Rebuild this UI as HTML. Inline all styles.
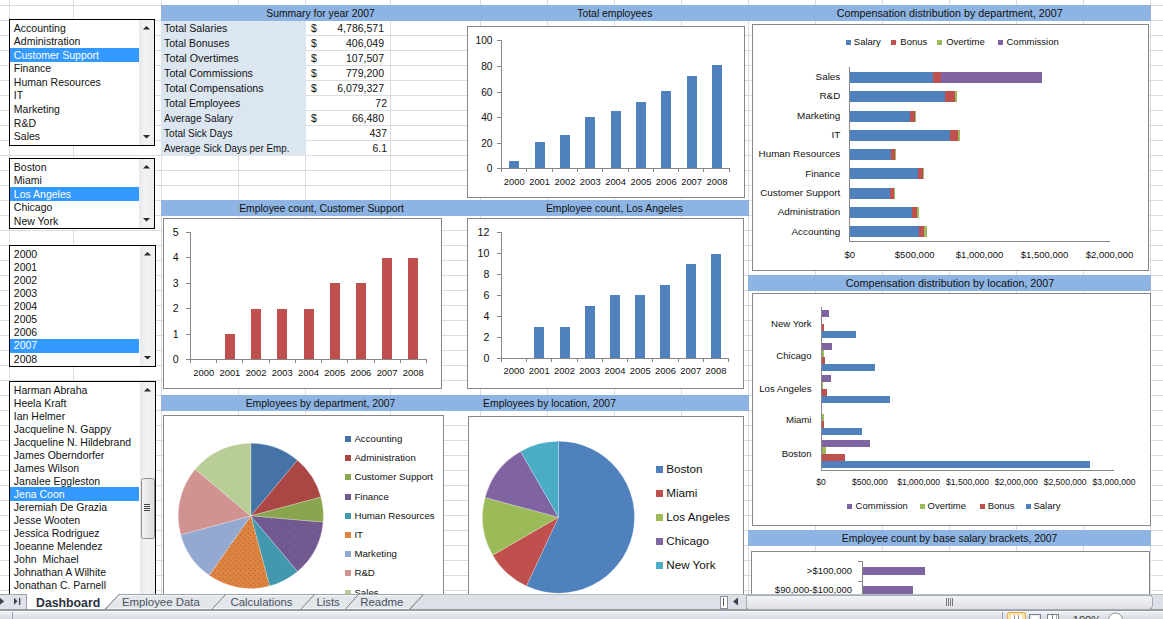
<!DOCTYPE html>
<html><head><meta charset="utf-8"><style>html,body{margin:0;padding:0;background:#fff;overflow:hidden}svg{display:block}text{font-family:"Liberation Sans",sans-serif}</style></head>
<body><svg width="1163" height="619" viewBox="0 0 1163 619" shape-rendering="crispEdges">
<defs>
<linearGradient id="sbg" x1="0" x2="1" y1="0" y2="0"><stop offset="0" stop-color="#e6e8ea"/><stop offset="0.4" stop-color="#f2f3f4"/><stop offset="1" stop-color="#eceef0"/></linearGradient>
<linearGradient id="thumb" x1="0" x2="1" y1="0" y2="0"><stop offset="0" stop-color="#f4f4f4"/><stop offset="1" stop-color="#dcdcdc"/></linearGradient>
<linearGradient id="stb" x1="0" x2="0" y1="0" y2="1"><stop offset="0" stop-color="#f0f2f5"/><stop offset="1" stop-color="#d7dbe1"/></linearGradient>
<linearGradient id="hs" x1="0" x2="0" y1="0" y2="1"><stop offset="0" stop-color="#f4f5f7"/><stop offset="1" stop-color="#dde0e5"/></linearGradient>
<pattern id="dotIT" width="5" height="5" patternUnits="userSpaceOnUse"><rect x="0" y="0" width="1" height="1" fill="#c4584a"/><rect x="2.5" y="2.5" width="1" height="1" fill="#c4584a"/></pattern>
<pattern id="dotF" width="12" height="9" patternUnits="userSpaceOnUse"><rect x="1" y="1" width="1" height="1" fill="#8472a0"/><rect x="7" y="5.5" width="1" height="1" fill="#8472a0"/></pattern>
</defs>
<rect x="0" y="0" width="1163" height="619" fill="#ffffff" />
<rect x="9" y="0" width="1" height="619" fill="#dadcdf" />
<rect x="73" y="0" width="1" height="619" fill="#dadcdf" />
<rect x="161" y="0" width="1" height="619" fill="#dadcdf" />
<rect x="238" y="0" width="1" height="619" fill="#dadcdf" />
<rect x="305" y="0" width="1" height="619" fill="#dadcdf" />
<rect x="390" y="0" width="1" height="619" fill="#dadcdf" />
<rect x="480" y="0" width="1" height="619" fill="#dadcdf" />
<rect x="547" y="0" width="1" height="619" fill="#dadcdf" />
<rect x="614" y="0" width="1" height="619" fill="#dadcdf" />
<rect x="681" y="0" width="1" height="619" fill="#dadcdf" />
<rect x="748" y="0" width="1" height="619" fill="#dadcdf" />
<rect x="815" y="0" width="1" height="619" fill="#dadcdf" />
<rect x="882" y="0" width="1" height="619" fill="#dadcdf" />
<rect x="949" y="0" width="1" height="619" fill="#dadcdf" />
<rect x="1016" y="0" width="1" height="619" fill="#dadcdf" />
<rect x="1083" y="0" width="1" height="619" fill="#dadcdf" />
<rect x="1150" y="0" width="1" height="619" fill="#dadcdf" />
<rect x="0" y="5" width="1163" height="1" fill="#dadcdf" />
<rect x="0" y="20" width="1163" height="1" fill="#dadcdf" />
<rect x="0" y="35" width="1163" height="1" fill="#dadcdf" />
<rect x="0" y="50" width="1163" height="1" fill="#dadcdf" />
<rect x="0" y="65" width="1163" height="1" fill="#dadcdf" />
<rect x="0" y="80" width="1163" height="1" fill="#dadcdf" />
<rect x="0" y="95" width="1163" height="1" fill="#dadcdf" />
<rect x="0" y="110" width="1163" height="1" fill="#dadcdf" />
<rect x="0" y="125" width="1163" height="1" fill="#dadcdf" />
<rect x="0" y="140" width="1163" height="1" fill="#dadcdf" />
<rect x="0" y="155" width="1163" height="1" fill="#dadcdf" />
<rect x="0" y="170" width="1163" height="1" fill="#dadcdf" />
<rect x="0" y="185" width="1163" height="1" fill="#dadcdf" />
<rect x="0" y="200" width="1163" height="1" fill="#dadcdf" />
<rect x="0" y="215" width="1163" height="1" fill="#dadcdf" />
<rect x="0" y="230" width="1163" height="1" fill="#dadcdf" />
<rect x="0" y="245" width="1163" height="1" fill="#dadcdf" />
<rect x="0" y="260" width="1163" height="1" fill="#dadcdf" />
<rect x="0" y="275" width="1163" height="1" fill="#dadcdf" />
<rect x="0" y="290" width="1163" height="1" fill="#dadcdf" />
<rect x="0" y="305" width="1163" height="1" fill="#dadcdf" />
<rect x="0" y="320" width="1163" height="1" fill="#dadcdf" />
<rect x="0" y="335" width="1163" height="1" fill="#dadcdf" />
<rect x="0" y="350" width="1163" height="1" fill="#dadcdf" />
<rect x="0" y="365" width="1163" height="1" fill="#dadcdf" />
<rect x="0" y="380" width="1163" height="1" fill="#dadcdf" />
<rect x="0" y="395" width="1163" height="1" fill="#dadcdf" />
<rect x="0" y="410" width="1163" height="1" fill="#dadcdf" />
<rect x="0" y="425" width="1163" height="1" fill="#dadcdf" />
<rect x="0" y="440" width="1163" height="1" fill="#dadcdf" />
<rect x="0" y="455" width="1163" height="1" fill="#dadcdf" />
<rect x="0" y="470" width="1163" height="1" fill="#dadcdf" />
<rect x="0" y="485" width="1163" height="1" fill="#dadcdf" />
<rect x="0" y="500" width="1163" height="1" fill="#dadcdf" />
<rect x="0" y="515" width="1163" height="1" fill="#dadcdf" />
<rect x="0" y="530" width="1163" height="1" fill="#dadcdf" />
<rect x="0" y="545" width="1163" height="1" fill="#dadcdf" />
<rect x="0" y="560" width="1163" height="1" fill="#dadcdf" />
<rect x="0" y="575" width="1163" height="1" fill="#dadcdf" />
<rect x="0" y="590" width="1163" height="1" fill="#dadcdf" />
<rect x="161" y="5" width="990" height="16" fill="#8db4e2" />
<text x="320.5" y="16.5" font-size="10.4" fill="#111" text-anchor="middle" font-weight="normal" >Summary for year 2007</text>
<text x="614.8" y="16.5" font-size="10.4" fill="#111" text-anchor="middle" font-weight="normal" >Total employees</text>
<text x="949.7" y="16.5" font-size="10.75" fill="#111" text-anchor="middle" font-weight="normal" >Compensation distribution by department, 2007</text>
<rect x="161" y="200" width="588" height="16" fill="#8db4e2" />
<text x="321.5" y="211.5" font-size="10.4" fill="#111" text-anchor="middle" font-weight="normal" >Employee count, Customer Support</text>
<text x="614.4" y="211.5" font-size="10.4" fill="#111" text-anchor="middle" font-weight="normal" >Employee count, Los Angeles</text>
<rect x="748" y="275" width="403" height="16" fill="#8db4e2" />
<text x="950" y="286.5" font-size="10.75" fill="#111" text-anchor="middle" font-weight="normal" >Compensation distribution by location, 2007</text>
<rect x="161" y="395" width="588" height="16" fill="#8db4e2" />
<text x="320.5" y="406.5" font-size="10.4" fill="#111" text-anchor="middle" font-weight="normal" >Employees by department, 2007</text>
<text x="549.5" y="406.5" font-size="10.4" fill="#111" text-anchor="middle" font-weight="normal" >Employees by location, 2007</text>
<rect x="748" y="530" width="403" height="16" fill="#8db4e2" />
<text x="949.6" y="541.5" font-size="10.4" fill="#111" text-anchor="middle" font-weight="normal" >Employee count by base salary brackets, 2007</text>
<rect x="161" y="21" width="145" height="135" fill="#dce6f1" />
<text x="164.1" y="32.4" font-size="10.5" fill="#111" text-anchor="start" font-weight="normal"  textLength="63.3" lengthAdjust="spacingAndGlyphs">Total Salaries</text>
<text x="311" y="32.4" font-size="10.5" fill="#111" text-anchor="start" font-weight="normal" >$</text>
<text x="384" y="32.4" font-size="10.5" fill="#111" text-anchor="end" font-weight="normal" >4,786,571</text>
<text x="164.1" y="47.4" font-size="10.5" fill="#111" text-anchor="start" font-weight="normal"  textLength="65.4" lengthAdjust="spacingAndGlyphs">Total Bonuses</text>
<text x="311" y="47.4" font-size="10.5" fill="#111" text-anchor="start" font-weight="normal" >$</text>
<text x="384" y="47.4" font-size="10.5" fill="#111" text-anchor="end" font-weight="normal" >406,049</text>
<text x="164.1" y="62.4" font-size="10.5" fill="#111" text-anchor="start" font-weight="normal"  textLength="74.4" lengthAdjust="spacingAndGlyphs">Total Overtimes</text>
<text x="311" y="62.4" font-size="10.5" fill="#111" text-anchor="start" font-weight="normal" >$</text>
<text x="384" y="62.4" font-size="10.5" fill="#111" text-anchor="end" font-weight="normal" >107,507</text>
<text x="164.1" y="77.4" font-size="10.5" fill="#111" text-anchor="start" font-weight="normal"  textLength="88.7" lengthAdjust="spacingAndGlyphs">Total Commissions</text>
<text x="311" y="77.4" font-size="10.5" fill="#111" text-anchor="start" font-weight="normal" >$</text>
<text x="384" y="77.4" font-size="10.5" fill="#111" text-anchor="end" font-weight="normal" >779,200</text>
<text x="164.1" y="92.4" font-size="10.5" fill="#111" text-anchor="start" font-weight="normal"  textLength="99.5" lengthAdjust="spacingAndGlyphs">Total Compensations</text>
<text x="311" y="92.4" font-size="10.5" fill="#111" text-anchor="start" font-weight="normal" >$</text>
<text x="384" y="92.4" font-size="10.5" fill="#111" text-anchor="end" font-weight="normal" >6,079,327</text>
<text x="164.1" y="107.4" font-size="10.5" fill="#111" text-anchor="start" font-weight="normal"  textLength="76.2" lengthAdjust="spacingAndGlyphs">Total Employees</text>
<text x="387" y="107.4" font-size="10.5" fill="#111" text-anchor="end" font-weight="normal" >72</text>
<text x="164.1" y="122.4" font-size="10.5" fill="#111" text-anchor="start" font-weight="normal"  textLength="68.8" lengthAdjust="spacingAndGlyphs">Average Salary</text>
<text x="311" y="122.4" font-size="10.5" fill="#111" text-anchor="start" font-weight="normal" >$</text>
<text x="384" y="122.4" font-size="10.5" fill="#111" text-anchor="end" font-weight="normal" >66,480</text>
<text x="164.1" y="137.4" font-size="10.5" fill="#111" text-anchor="start" font-weight="normal"  textLength="68.3" lengthAdjust="spacingAndGlyphs">Total Sick Days</text>
<text x="387" y="137.4" font-size="10.5" fill="#111" text-anchor="end" font-weight="normal" >437</text>
<text x="164.1" y="152.4" font-size="10.5" fill="#111" text-anchor="start" font-weight="normal"  textLength="125.3" lengthAdjust="spacingAndGlyphs">Average Sick Days per Emp.</text>
<text x="387" y="152.4" font-size="10.5" fill="#111" text-anchor="end" font-weight="normal" >6.1</text>
<rect x="467" y="26" width="278" height="172" fill="#868686" />
<rect x="468" y="27" width="276" height="170" fill="#fff" />
<rect x="501" y="40" width="1" height="129" fill="#868686" />
<rect x="497" y="168" width="4" height="1" fill="#868686" />
<text x="492.5" y="171.7" font-size="10.2" fill="#111" text-anchor="end" font-weight="normal" >0</text>
<rect x="497" y="143" width="4" height="1" fill="#868686" />
<text x="492.5" y="146.7" font-size="10.2" fill="#111" text-anchor="end" font-weight="normal" >20</text>
<rect x="497" y="117" width="4" height="1" fill="#868686" />
<text x="492.5" y="120.7" font-size="10.2" fill="#111" text-anchor="end" font-weight="normal" >40</text>
<rect x="497" y="92" width="4" height="1" fill="#868686" />
<text x="492.5" y="95.7" font-size="10.2" fill="#111" text-anchor="end" font-weight="normal" >60</text>
<rect x="497" y="66" width="4" height="1" fill="#868686" />
<text x="492.5" y="69.7" font-size="10.2" fill="#111" text-anchor="end" font-weight="normal" >80</text>
<rect x="497" y="40" width="4" height="1" fill="#868686" />
<text x="492.5" y="43.7" font-size="10.2" fill="#111" text-anchor="end" font-weight="normal" >100</text>
<rect x="501" y="168" width="229" height="1" fill="#868686" />
<rect x="501" y="168" width="1" height="4" fill="#868686" />
<rect x="526" y="168" width="1" height="4" fill="#868686" />
<rect x="552" y="168" width="1" height="4" fill="#868686" />
<rect x="577" y="168" width="1" height="4" fill="#868686" />
<rect x="602" y="168" width="1" height="4" fill="#868686" />
<rect x="628" y="168" width="1" height="4" fill="#868686" />
<rect x="653" y="168" width="1" height="4" fill="#868686" />
<rect x="678" y="168" width="1" height="4" fill="#868686" />
<rect x="703" y="168" width="1" height="4" fill="#868686" />
<rect x="729" y="168" width="1" height="4" fill="#868686" />
<rect x="509" y="161" width="10" height="7" fill="#4f81bd" />
<text x="514.3" y="185" font-size="9.4" fill="#111" text-anchor="middle" font-weight="normal" >2000</text>
<rect x="535" y="142" width="10" height="26" fill="#4f81bd" />
<text x="539.63" y="185" font-size="9.4" fill="#111" text-anchor="middle" font-weight="normal" >2001</text>
<rect x="560" y="135" width="10" height="33" fill="#4f81bd" />
<text x="564.96" y="185" font-size="9.4" fill="#111" text-anchor="middle" font-weight="normal" >2002</text>
<rect x="585" y="117" width="10" height="51" fill="#4f81bd" />
<text x="590.29" y="185" font-size="9.4" fill="#111" text-anchor="middle" font-weight="normal" >2003</text>
<rect x="611" y="111" width="10" height="57" fill="#4f81bd" />
<text x="615.62" y="185" font-size="9.4" fill="#111" text-anchor="middle" font-weight="normal" >2004</text>
<rect x="636" y="102" width="10" height="66" fill="#4f81bd" />
<text x="640.95" y="185" font-size="9.4" fill="#111" text-anchor="middle" font-weight="normal" >2005</text>
<rect x="661" y="91" width="10" height="77" fill="#4f81bd" />
<text x="666.28" y="185" font-size="9.4" fill="#111" text-anchor="middle" font-weight="normal" >2006</text>
<rect x="687" y="76" width="10" height="92" fill="#4f81bd" />
<text x="691.61" y="185" font-size="9.4" fill="#111" text-anchor="middle" font-weight="normal" >2007</text>
<rect x="712" y="65" width="10" height="103" fill="#4f81bd" />
<text x="716.94" y="185" font-size="9.4" fill="#111" text-anchor="middle" font-weight="normal" >2008</text>
<rect x="752" y="24" width="397" height="247" fill="#868686" />
<rect x="753" y="25" width="395" height="245" fill="#fff" />
<rect x="846" y="40" width="5" height="5" fill="#4f81bd" />
<text x="853.8" y="45.3" font-size="9.5" fill="#111" text-anchor="start" font-weight="normal" >Salary</text>
<rect x="891" y="40" width="5" height="5" fill="#c0504d" />
<text x="900.3" y="45.3" font-size="9.5" fill="#111" text-anchor="start" font-weight="normal" >Bonus</text>
<rect x="937" y="40" width="5" height="5" fill="#9bbb59" />
<text x="946.2" y="45.3" font-size="9.5" fill="#111" text-anchor="start" font-weight="normal" >Overtime</text>
<rect x="998" y="40" width="5" height="5" fill="#8064a2" />
<text x="1006.5" y="45.3" font-size="9.5" fill="#111" text-anchor="start" font-weight="normal" >Commission</text>
<rect x="849" y="67" width="1" height="175" fill="#868686" />
<rect x="849" y="241" width="261" height="1" fill="#868686" />
<rect x="850" y="72" width="83" height="11" fill="#4f81bd" />
<rect x="933" y="72" width="8" height="11" fill="#c0504d" />
<rect x="941" y="72" width="101" height="11" fill="#8064a2" />
<text x="840.3" y="80.4" font-size="9.9" fill="#111" text-anchor="end" font-weight="normal" >Sales</text>
<rect x="850" y="91" width="95.2" height="11" fill="#4f81bd" />
<rect x="945.2" y="91" width="9.8" height="11" fill="#c0504d" />
<rect x="955" y="91" width="2" height="11" fill="#9bbb59" />
<text x="840.3" y="99" font-size="9.9" fill="#111" text-anchor="end" font-weight="normal" >R&amp;D</text>
<rect x="850" y="111" width="60" height="11" fill="#4f81bd" />
<rect x="910" y="111" width="5.2" height="11" fill="#c0504d" />
<rect x="915.2" y="111" width="0.8" height="11" fill="#9bbb59" />
<text x="840.3" y="119.2" font-size="9.9" fill="#111" text-anchor="end" font-weight="normal" >Marketing</text>
<rect x="850" y="130" width="100" height="11" fill="#4f81bd" />
<rect x="950" y="130" width="8" height="11" fill="#c0504d" />
<rect x="958" y="130" width="2" height="11" fill="#9bbb59" />
<text x="840.3" y="138.2" font-size="9.9" fill="#111" text-anchor="end" font-weight="normal" >IT</text>
<rect x="850" y="149" width="40.7" height="11" fill="#4f81bd" />
<rect x="890.7" y="149" width="4.3" height="11" fill="#c0504d" />
<rect x="895" y="149" width="1" height="11" fill="#9bbb59" />
<text x="840.3" y="157" font-size="9.9" fill="#111" text-anchor="end" font-weight="normal" >Human Resources</text>
<rect x="850" y="168" width="68" height="11" fill="#4f81bd" />
<rect x="918" y="168" width="4.7" height="11" fill="#c0504d" />
<rect x="922.7" y="168" width="1.3" height="11" fill="#9bbb59" />
<text x="840.3" y="177" font-size="9.9" fill="#111" text-anchor="end" font-weight="normal" >Finance</text>
<rect x="850" y="188" width="40" height="11" fill="#4f81bd" />
<rect x="890" y="188" width="4" height="11" fill="#c0504d" />
<rect x="894" y="188" width="1" height="11" fill="#9bbb59" />
<text x="840.3" y="196.3" font-size="9.9" fill="#111" text-anchor="end" font-weight="normal" >Customer Support</text>
<rect x="850" y="207" width="61.8" height="11" fill="#4f81bd" />
<rect x="911.8" y="207" width="5.0" height="11" fill="#c0504d" />
<rect x="916.8" y="207" width="2.0" height="11" fill="#9bbb59" />
<text x="840.3" y="215.2" font-size="9.9" fill="#111" text-anchor="end" font-weight="normal" >Administration</text>
<rect x="850" y="226" width="69" height="11" fill="#4f81bd" />
<rect x="919" y="226" width="5.2" height="11" fill="#c0504d" />
<rect x="924.2" y="226" width="2.8" height="11" fill="#9bbb59" />
<text x="840.3" y="235.3" font-size="9.9" fill="#111" text-anchor="end" font-weight="normal" >Accounting</text>
<text x="849.7" y="257.7" font-size="9.5" fill="#111" text-anchor="middle" font-weight="normal" >$0</text>
<text x="914.6500000000001" y="257.7" font-size="9.5" fill="#111" text-anchor="middle" font-weight="normal" >$500,000</text>
<text x="979.6" y="257.7" font-size="9.5" fill="#111" text-anchor="middle" font-weight="normal" >$1,000,000</text>
<text x="1044.5500000000002" y="257.7" font-size="9.5" fill="#111" text-anchor="middle" font-weight="normal" >$1,500,000</text>
<text x="1109.5" y="257.7" font-size="9.5" fill="#111" text-anchor="middle" font-weight="normal" >$2,000,000</text>
<rect x="163" y="218" width="279" height="171" fill="#868686" />
<rect x="164" y="219" width="277" height="169" fill="#fff" />
<rect x="190" y="232" width="1" height="128" fill="#868686" />
<rect x="186" y="359" width="4" height="1" fill="#868686" />
<text x="178.7" y="362.8" font-size="10.6" fill="#111" text-anchor="end" font-weight="normal" >0</text>
<rect x="186" y="334" width="4" height="1" fill="#868686" />
<text x="178.7" y="337.8" font-size="10.6" fill="#111" text-anchor="end" font-weight="normal" >1</text>
<rect x="186" y="308" width="4" height="1" fill="#868686" />
<text x="178.7" y="311.8" font-size="10.6" fill="#111" text-anchor="end" font-weight="normal" >2</text>
<rect x="186" y="283" width="4" height="1" fill="#868686" />
<text x="178.7" y="286.8" font-size="10.6" fill="#111" text-anchor="end" font-weight="normal" >3</text>
<rect x="186" y="257" width="4" height="1" fill="#868686" />
<text x="178.7" y="260.8" font-size="10.6" fill="#111" text-anchor="end" font-weight="normal" >4</text>
<rect x="186" y="232" width="4" height="1" fill="#868686" />
<text x="178.7" y="235.8" font-size="10.6" fill="#111" text-anchor="end" font-weight="normal" >5</text>
<rect x="190" y="359" width="237" height="1" fill="#868686" />
<rect x="190" y="359" width="1" height="4" fill="#868686" />
<rect x="216" y="359" width="1" height="4" fill="#868686" />
<rect x="242" y="359" width="1" height="4" fill="#868686" />
<rect x="269" y="359" width="1" height="4" fill="#868686" />
<rect x="295" y="359" width="1" height="4" fill="#868686" />
<rect x="321" y="359" width="1" height="4" fill="#868686" />
<rect x="347" y="359" width="1" height="4" fill="#868686" />
<rect x="374" y="359" width="1" height="4" fill="#868686" />
<rect x="400" y="359" width="1" height="4" fill="#868686" />
<rect x="426" y="359" width="1" height="4" fill="#868686" />
<text x="203.7" y="375.8" font-size="9.4" fill="#111" text-anchor="middle" font-weight="normal" >2000</text>
<rect x="225" y="334" width="10" height="25" fill="#c0504d" />
<text x="229.89999999999998" y="375.8" font-size="9.4" fill="#111" text-anchor="middle" font-weight="normal" >2001</text>
<rect x="251" y="309" width="10" height="50" fill="#c0504d" />
<text x="256.1" y="375.8" font-size="9.4" fill="#111" text-anchor="middle" font-weight="normal" >2002</text>
<rect x="277" y="309" width="10" height="50" fill="#c0504d" />
<text x="282.29999999999995" y="375.8" font-size="9.4" fill="#111" text-anchor="middle" font-weight="normal" >2003</text>
<rect x="304" y="309" width="10" height="50" fill="#c0504d" />
<text x="308.5" y="375.8" font-size="9.4" fill="#111" text-anchor="middle" font-weight="normal" >2004</text>
<rect x="330" y="283" width="10" height="76" fill="#c0504d" />
<text x="334.7" y="375.8" font-size="9.4" fill="#111" text-anchor="middle" font-weight="normal" >2005</text>
<rect x="356" y="283" width="10" height="76" fill="#c0504d" />
<text x="360.9" y="375.8" font-size="9.4" fill="#111" text-anchor="middle" font-weight="normal" >2006</text>
<rect x="382" y="258" width="10" height="101" fill="#c0504d" />
<text x="387.1" y="375.8" font-size="9.4" fill="#111" text-anchor="middle" font-weight="normal" >2007</text>
<rect x="408" y="258" width="10" height="101" fill="#c0504d" />
<text x="413.29999999999995" y="375.8" font-size="9.4" fill="#111" text-anchor="middle" font-weight="normal" >2008</text>
<rect x="467" y="218" width="277" height="171" fill="#868686" />
<rect x="468" y="219" width="275" height="169" fill="#fff" />
<rect x="501" y="232" width="1" height="127" fill="#868686" />
<rect x="497" y="358" width="4" height="1" fill="#868686" />
<text x="489.4" y="361.8" font-size="10.6" fill="#111" text-anchor="end" font-weight="normal" >0</text>
<rect x="497" y="337" width="4" height="1" fill="#868686" />
<text x="489.4" y="340.8" font-size="10.6" fill="#111" text-anchor="end" font-weight="normal" >2</text>
<rect x="497" y="316" width="4" height="1" fill="#868686" />
<text x="489.4" y="319.8" font-size="10.6" fill="#111" text-anchor="end" font-weight="normal" >4</text>
<rect x="497" y="295" width="4" height="1" fill="#868686" />
<text x="489.4" y="298.8" font-size="10.6" fill="#111" text-anchor="end" font-weight="normal" >6</text>
<rect x="497" y="274" width="4" height="1" fill="#868686" />
<text x="489.4" y="277.8" font-size="10.6" fill="#111" text-anchor="end" font-weight="normal" >8</text>
<rect x="497" y="253" width="4" height="1" fill="#868686" />
<text x="489.4" y="256.8" font-size="10.6" fill="#111" text-anchor="end" font-weight="normal" >10</text>
<rect x="497" y="232" width="4" height="1" fill="#868686" />
<text x="489.4" y="235.8" font-size="10.6" fill="#111" text-anchor="end" font-weight="normal" >12</text>
<rect x="501" y="358" width="228" height="1" fill="#868686" />
<rect x="501" y="358" width="1" height="4" fill="#868686" />
<rect x="526" y="358" width="1" height="4" fill="#868686" />
<rect x="551" y="358" width="1" height="4" fill="#868686" />
<rect x="577" y="358" width="1" height="4" fill="#868686" />
<rect x="602" y="358" width="1" height="4" fill="#868686" />
<rect x="627" y="358" width="1" height="4" fill="#868686" />
<rect x="652" y="358" width="1" height="4" fill="#868686" />
<rect x="678" y="358" width="1" height="4" fill="#868686" />
<rect x="703" y="358" width="1" height="4" fill="#868686" />
<rect x="728" y="358" width="1" height="4" fill="#868686" />
<text x="514.0" y="374.3" font-size="9.4" fill="#111" text-anchor="middle" font-weight="normal" >2000</text>
<rect x="534" y="327" width="10" height="31" fill="#4f81bd" />
<text x="539.25" y="374.3" font-size="9.4" fill="#111" text-anchor="middle" font-weight="normal" >2001</text>
<rect x="560" y="327" width="10" height="31" fill="#4f81bd" />
<text x="564.5" y="374.3" font-size="9.4" fill="#111" text-anchor="middle" font-weight="normal" >2002</text>
<rect x="585" y="306" width="10" height="52" fill="#4f81bd" />
<text x="589.75" y="374.3" font-size="9.4" fill="#111" text-anchor="middle" font-weight="normal" >2003</text>
<rect x="610" y="295" width="10" height="63" fill="#4f81bd" />
<text x="615.0" y="374.3" font-size="9.4" fill="#111" text-anchor="middle" font-weight="normal" >2004</text>
<rect x="635" y="295" width="10" height="63" fill="#4f81bd" />
<text x="640.25" y="374.3" font-size="9.4" fill="#111" text-anchor="middle" font-weight="normal" >2005</text>
<rect x="660" y="285" width="10" height="73" fill="#4f81bd" />
<text x="665.5" y="374.3" font-size="9.4" fill="#111" text-anchor="middle" font-weight="normal" >2006</text>
<rect x="686" y="264" width="10" height="94" fill="#4f81bd" />
<text x="690.75" y="374.3" font-size="9.4" fill="#111" text-anchor="middle" font-weight="normal" >2007</text>
<rect x="711" y="254" width="10" height="104" fill="#4f81bd" />
<text x="716.0" y="374.3" font-size="9.4" fill="#111" text-anchor="middle" font-weight="normal" >2008</text>
<rect x="752" y="293" width="399" height="233" fill="#868686" />
<rect x="753" y="294" width="397" height="231" fill="#fff" />
<rect x="821" y="307" width="1" height="164" fill="#868686" />
<rect x="821" y="470" width="293" height="1" fill="#868686" />
<rect x="822" y="310" width="6.8" height="7" fill="#8064a2" />
<rect x="822" y="324" width="2" height="7" fill="#c0504d" />
<rect x="822" y="331" width="34" height="7" fill="#4f81bd" />
<text x="811.5" y="326.7" font-size="9.6" fill="#111" text-anchor="end" font-weight="normal" >New York</text>
<rect x="822" y="343" width="9.9" height="7" fill="#8064a2" />
<rect x="822" y="350" width="2" height="7" fill="#9bbb59" />
<rect x="822" y="357" width="3" height="7" fill="#c0504d" />
<rect x="822" y="364" width="53" height="7" fill="#4f81bd" />
<text x="811.5" y="358.7" font-size="9.6" fill="#111" text-anchor="end" font-weight="normal" >Chicago</text>
<rect x="822" y="375" width="9" height="7" fill="#8064a2" />
<rect x="822" y="382" width="1" height="7" fill="#9bbb59" />
<rect x="822" y="389" width="4.8" height="7" fill="#c0504d" />
<rect x="822" y="396" width="68" height="7" fill="#4f81bd" />
<text x="811.5" y="391.7" font-size="9.6" fill="#111" text-anchor="end" font-weight="normal" >Los Angeles</text>
<rect x="822" y="414" width="1.6" height="7" fill="#9bbb59" />
<rect x="822" y="421" width="2" height="7" fill="#c0504d" />
<rect x="822" y="428" width="40" height="7" fill="#4f81bd" />
<text x="811.5" y="423.3" font-size="9.6" fill="#111" text-anchor="end" font-weight="normal" >Miami</text>
<rect x="822" y="440" width="48" height="7" fill="#8064a2" />
<rect x="822" y="447" width="4" height="7" fill="#9bbb59" />
<rect x="822" y="454" width="22.8" height="7" fill="#c0504d" />
<rect x="822" y="461" width="268" height="7" fill="#4f81bd" />
<text x="811.5" y="456.5" font-size="9.6" fill="#111" text-anchor="end" font-weight="normal" >Boston</text>
<text x="821.0" y="485" font-size="8.6" fill="#111" text-anchor="middle" font-weight="normal" >$0</text>
<text x="869.83" y="485" font-size="8.6" fill="#111" text-anchor="middle" font-weight="normal" >$500,000</text>
<text x="918.66" y="485" font-size="8.6" fill="#111" text-anchor="middle" font-weight="normal" >$1,000,000</text>
<text x="967.49" y="485" font-size="8.6" fill="#111" text-anchor="middle" font-weight="normal" >$1,500,000</text>
<text x="1016.3199999999999" y="485" font-size="8.6" fill="#111" text-anchor="middle" font-weight="normal" >$2,000,000</text>
<text x="1065.15" y="485" font-size="8.6" fill="#111" text-anchor="middle" font-weight="normal" >$2,500,000</text>
<text x="1113.98" y="485" font-size="8.6" fill="#111" text-anchor="middle" font-weight="normal" >$3,000,000</text>
<rect x="847" y="504" width="5" height="5" fill="#8064a2" />
<text x="855.6" y="509" font-size="9.5" fill="#111" text-anchor="start" font-weight="normal" >Commission</text>
<rect x="920" y="504" width="5" height="5" fill="#9bbb59" />
<text x="927.5" y="509" font-size="9.5" fill="#111" text-anchor="start" font-weight="normal" >Overtime</text>
<rect x="980" y="504" width="5" height="5" fill="#c0504d" />
<text x="987.7" y="509" font-size="9.5" fill="#111" text-anchor="start" font-weight="normal" >Bonus</text>
<rect x="1026" y="504" width="5" height="5" fill="#4f81bd" />
<text x="1033.5" y="509" font-size="9.5" fill="#111" text-anchor="start" font-weight="normal" >Salary</text>
<rect x="163" y="415" width="281" height="226" fill="#868686" />
<rect x="164" y="416" width="279" height="224" fill="#fff" />
<path d="M250.8,515.9 L250.80,443.30 A72.6,72.6 0 0 1 297.47,460.29 Z" fill="#4572a7" stroke="#fff" stroke-width="0.4" stroke-opacity="0.6" shape-rendering="geometricPrecision"/>
<path d="M250.8,515.9 L297.47,460.29 A72.6,72.6 0 0 1 320.93,497.11 Z" fill="#aa4643" stroke="#fff" stroke-width="0.4" stroke-opacity="0.6" shape-rendering="geometricPrecision"/>
<path d="M250.8,515.9 L320.93,497.11 A72.6,72.6 0 0 1 323.12,522.23 Z" fill="#89a54e" stroke="#fff" stroke-width="0.4" stroke-opacity="0.6" shape-rendering="geometricPrecision"/>
<path d="M250.8,515.9 L323.12,522.23 A72.6,72.6 0 0 1 297.47,571.51 Z" fill="#71588f" stroke="#fff" stroke-width="0.4" stroke-opacity="0.6" shape-rendering="geometricPrecision"/>
<path d="M250.8,515.9 L297.47,571.51 A72.6,72.6 0 0 1 269.59,586.03 Z" fill="#4198af" stroke="#fff" stroke-width="0.4" stroke-opacity="0.6" shape-rendering="geometricPrecision"/>
<path d="M250.8,515.9 L269.59,586.03 A72.6,72.6 0 0 1 209.16,575.37 Z" fill="#db843d" stroke="#fff" stroke-width="0.4" stroke-opacity="0.6" shape-rendering="geometricPrecision"/>
<path d="M250.8,515.9 L209.16,575.37 A72.6,72.6 0 0 1 180.67,534.69 Z" fill="#93a9cf" stroke="#fff" stroke-width="0.4" stroke-opacity="0.6" shape-rendering="geometricPrecision"/>
<path d="M250.8,515.9 L180.67,534.69 A72.6,72.6 0 0 1 195.19,469.23 Z" fill="#d19392" stroke="#fff" stroke-width="0.4" stroke-opacity="0.6" shape-rendering="geometricPrecision"/>
<path d="M250.8,515.9 L195.19,469.23 A72.6,72.6 0 0 1 250.80,443.30 Z" fill="#b9cd96" stroke="#fff" stroke-width="0.4" stroke-opacity="0.6" shape-rendering="geometricPrecision"/>
<path d="M250.8,515.9 L323.12,522.23 A72.6,72.6 0 0 1 297.47,571.51 Z" fill="url(#dotF)" shape-rendering="geometricPrecision"/>
<path d="M250.8,515.9 L269.59,586.03 A72.6,72.6 0 0 1 209.16,575.37 Z" fill="url(#dotIT)" shape-rendering="geometricPrecision"/>
<rect x="345" y="436" width="6" height="6" fill="#4572a7" />
<text x="354.4" y="442.0" font-size="9.7" fill="#111" text-anchor="start" font-weight="normal" >Accounting</text>
<rect x="345" y="455" width="6" height="6" fill="#aa4643" />
<text x="354.4" y="461.2" font-size="9.7" fill="#111" text-anchor="start" font-weight="normal" >Administration</text>
<rect x="345" y="474" width="6" height="6" fill="#89a54e" />
<text x="354.4" y="480.4" font-size="9.7" fill="#111" text-anchor="start" font-weight="normal" >Customer Support</text>
<rect x="345" y="494" width="6" height="6" fill="#71588f" />
<text x="354.4" y="499.6" font-size="9.7" fill="#111" text-anchor="start" font-weight="normal" >Finance</text>
<rect x="345" y="513" width="6" height="6" fill="#4198af" />
<text x="354.4" y="518.8" font-size="9.7" fill="#111" text-anchor="start" font-weight="normal" >Human Resources</text>
<rect x="345" y="532" width="6" height="6" fill="#db843d" />
<text x="354.4" y="538.0" font-size="9.7" fill="#111" text-anchor="start" font-weight="normal" >IT</text>
<rect x="345" y="551" width="6" height="6" fill="#93a9cf" />
<text x="354.4" y="557.2" font-size="9.7" fill="#111" text-anchor="start" font-weight="normal" >Marketing</text>
<rect x="345" y="570" width="6" height="6" fill="#d19392" />
<text x="354.4" y="576.4" font-size="9.7" fill="#111" text-anchor="start" font-weight="normal" >R&amp;D</text>
<rect x="345" y="590" width="6" height="6" fill="#b9cd96" />
<text x="354.4" y="595.6" font-size="9.7" fill="#111" text-anchor="start" font-weight="normal" >Sales</text>
<rect x="468" y="416" width="276" height="225" fill="#868686" />
<rect x="469" y="417" width="274" height="223" fill="#fff" />
<path d="M558.5,517.2 L558.50,441.20 A76,76 0 1 1 526.38,586.08 Z" fill="#4f81bd" stroke="#fff" stroke-width="0.4" stroke-opacity="0.6" shape-rendering="geometricPrecision"/>
<path d="M558.5,517.2 L526.38,586.08 A76,76 0 0 1 492.68,555.20 Z" fill="#c0504d" stroke="#fff" stroke-width="0.4" stroke-opacity="0.6" shape-rendering="geometricPrecision"/>
<path d="M558.5,517.2 L492.68,555.20 A76,76 0 0 1 485.09,497.53 Z" fill="#9bbb59" stroke="#fff" stroke-width="0.4" stroke-opacity="0.6" shape-rendering="geometricPrecision"/>
<path d="M558.5,517.2 L485.09,497.53 A76,76 0 0 1 520.50,451.38 Z" fill="#8064a2" stroke="#fff" stroke-width="0.4" stroke-opacity="0.6" shape-rendering="geometricPrecision"/>
<path d="M558.5,517.2 L520.50,451.38 A76,76 0 0 1 558.50,441.20 Z" fill="#4bacc6" stroke="#fff" stroke-width="0.4" stroke-opacity="0.6" shape-rendering="geometricPrecision"/>
<rect x="656" y="466" width="7" height="7" fill="#4f81bd" />
<text x="666.2" y="472.8" font-size="11.7" fill="#111" text-anchor="start" font-weight="normal" >Boston</text>
<rect x="656" y="490" width="7" height="7" fill="#c0504d" />
<text x="666.2" y="496.75" font-size="11.7" fill="#111" text-anchor="start" font-weight="normal" >Miami</text>
<rect x="656" y="514" width="7" height="7" fill="#9bbb59" />
<text x="666.2" y="520.7" font-size="11.7" fill="#111" text-anchor="start" font-weight="normal" >Los Angeles</text>
<rect x="656" y="538" width="7" height="7" fill="#8064a2" />
<text x="666.2" y="544.65" font-size="11.7" fill="#111" text-anchor="start" font-weight="normal" >Chicago</text>
<rect x="656" y="562" width="7" height="7" fill="#4bacc6" />
<text x="666.2" y="568.6" font-size="11.7" fill="#111" text-anchor="start" font-weight="normal" >New York</text>
<rect x="751" y="551" width="399" height="90" fill="#868686" />
<rect x="752" y="552" width="397" height="88" fill="#fff" />
<rect x="862" y="561" width="1" height="79" fill="#868686" />
<rect x="858" y="561" width="4" height="1" fill="#868686" />
<rect x="858" y="581" width="4" height="1" fill="#868686" />
<rect x="863" y="567" width="62" height="8" fill="#8064a2" />
<rect x="863" y="586" width="50" height="8" fill="#8064a2" />
<text x="852" y="573.5" font-size="9.5" fill="#111" text-anchor="end" font-weight="normal" >&gt;$100,000</text>
<text x="852" y="592.5" font-size="9.5" fill="#111" text-anchor="end" font-weight="normal" >$90,000-$100,000</text>
<rect x="9" y="19" width="146" height="127" fill="#000" />
<rect x="10" y="20" width="144" height="125" fill="#fff" />
<text x="13.8" y="31.6" font-size="10.5" fill="#111" text-anchor="start" font-weight="normal" xml:space="preserve">Accounting</text>
<text x="13.8" y="45.160000000000004" font-size="10.5" fill="#111" text-anchor="start" font-weight="normal" xml:space="preserve">Administration</text>
<rect x="10" y="48" width="129" height="14" fill="#3399ff" />
<text x="13.8" y="58.72" font-size="10.5" fill="#fff" text-anchor="start" font-weight="normal" xml:space="preserve">Customer Support</text>
<text x="13.8" y="72.28" font-size="10.5" fill="#111" text-anchor="start" font-weight="normal" xml:space="preserve">Finance</text>
<text x="13.8" y="85.84" font-size="10.5" fill="#111" text-anchor="start" font-weight="normal" xml:space="preserve">Human Resources</text>
<text x="13.8" y="99.4" font-size="10.5" fill="#111" text-anchor="start" font-weight="normal" xml:space="preserve">IT</text>
<text x="13.8" y="112.96000000000001" font-size="10.5" fill="#111" text-anchor="start" font-weight="normal" xml:space="preserve">Marketing</text>
<text x="13.8" y="126.52000000000001" font-size="10.5" fill="#111" text-anchor="start" font-weight="normal" xml:space="preserve">R&amp;D</text>
<text x="13.8" y="140.08" font-size="10.5" fill="#111" text-anchor="start" font-weight="normal" xml:space="preserve">Sales</text>
<rect x="139" y="20" width="15" height="125" fill="url(#sbg)"/>
<path d="M142.9,29.5 L146.5,26 L150.1,29.5 Z" fill="#2a2a2a" shape-rendering="geometricPrecision"/>
<path d="M142.9,135 L146.5,138.5 L150.1,135 Z" fill="#2a2a2a" shape-rendering="geometricPrecision"/>
<rect x="9" y="158" width="146" height="71" fill="#000" />
<rect x="10" y="159" width="144" height="69" fill="#fff" />
<text x="13.8" y="170.7" font-size="10.5" fill="#111" text-anchor="start" font-weight="normal" xml:space="preserve">Boston</text>
<text x="13.8" y="184.2" font-size="10.5" fill="#111" text-anchor="start" font-weight="normal" xml:space="preserve">Miami</text>
<rect x="10" y="187" width="129" height="14" fill="#3399ff" />
<text x="13.8" y="197.7" font-size="10.5" fill="#fff" text-anchor="start" font-weight="normal" xml:space="preserve">Los Angeles</text>
<text x="13.8" y="211.2" font-size="10.5" fill="#111" text-anchor="start" font-weight="normal" xml:space="preserve">Chicago</text>
<text x="13.8" y="224.7" font-size="10.5" fill="#111" text-anchor="start" font-weight="normal" xml:space="preserve">New York</text>
<rect x="139" y="159" width="15" height="69" fill="url(#sbg)"/>
<path d="M142.9,168.5 L146.5,165 L150.1,168.5 Z" fill="#2a2a2a" shape-rendering="geometricPrecision"/>
<path d="M142.9,218 L146.5,221.5 L150.1,218 Z" fill="#2a2a2a" shape-rendering="geometricPrecision"/>
<rect x="9" y="245" width="147" height="122" fill="#000" />
<rect x="10" y="246" width="145" height="120" fill="#fff" />
<text x="13.8" y="257.7" font-size="10.5" fill="#111" text-anchor="start" font-weight="normal" xml:space="preserve">2000</text>
<text x="13.8" y="270.8" font-size="10.5" fill="#111" text-anchor="start" font-weight="normal" xml:space="preserve">2001</text>
<text x="13.8" y="283.9" font-size="10.5" fill="#111" text-anchor="start" font-weight="normal" xml:space="preserve">2002</text>
<text x="13.8" y="297.0" font-size="10.5" fill="#111" text-anchor="start" font-weight="normal" xml:space="preserve">2003</text>
<text x="13.8" y="310.09999999999997" font-size="10.5" fill="#111" text-anchor="start" font-weight="normal" xml:space="preserve">2004</text>
<text x="13.8" y="323.2" font-size="10.5" fill="#111" text-anchor="start" font-weight="normal" xml:space="preserve">2005</text>
<text x="13.8" y="336.29999999999995" font-size="10.5" fill="#111" text-anchor="start" font-weight="normal" xml:space="preserve">2006</text>
<rect x="10" y="339" width="129" height="14" fill="#3399ff" />
<text x="13.8" y="349.4" font-size="10.5" fill="#fff" text-anchor="start" font-weight="normal" xml:space="preserve">2007</text>
<text x="13.8" y="362.5" font-size="10.5" fill="#111" text-anchor="start" font-weight="normal" xml:space="preserve">2008</text>
<rect x="140" y="246" width="15" height="120" fill="url(#sbg)"/>
<path d="M143.9,255.5 L147.5,252 L151.1,255.5 Z" fill="#2a2a2a" shape-rendering="geometricPrecision"/>
<path d="M143.9,356 L147.5,359.5 L151.1,356 Z" fill="#2a2a2a" shape-rendering="geometricPrecision"/>
<rect x="9" y="381" width="147" height="280" fill="#000" />
<rect x="10" y="382" width="145" height="278" fill="#fff" />
<text x="13.8" y="393.6" font-size="10.5" fill="#111" text-anchor="start" font-weight="normal" xml:space="preserve">Harman Abraha</text>
<text x="13.8" y="406.6" font-size="10.5" fill="#111" text-anchor="start" font-weight="normal" xml:space="preserve">Heela Kraft</text>
<text x="13.8" y="419.6" font-size="10.5" fill="#111" text-anchor="start" font-weight="normal" xml:space="preserve">Ian Helmer</text>
<text x="13.8" y="432.6" font-size="10.5" fill="#111" text-anchor="start" font-weight="normal" xml:space="preserve">Jacqueline N. Gappy</text>
<text x="13.8" y="445.6" font-size="10.5" fill="#111" text-anchor="start" font-weight="normal" xml:space="preserve">Jacqueline N. Hildebrand</text>
<text x="13.8" y="458.6" font-size="10.5" fill="#111" text-anchor="start" font-weight="normal" xml:space="preserve">James Oberndorfer</text>
<text x="13.8" y="471.6" font-size="10.5" fill="#111" text-anchor="start" font-weight="normal" xml:space="preserve">James Wilson</text>
<text x="13.8" y="484.6" font-size="10.5" fill="#111" text-anchor="start" font-weight="normal" xml:space="preserve">Janalee Eggleston</text>
<rect x="10" y="487" width="129" height="14" fill="#3399ff" />
<text x="13.8" y="497.6" font-size="10.5" fill="#fff" text-anchor="start" font-weight="normal" xml:space="preserve">Jena Coon</text>
<text x="13.8" y="510.6" font-size="10.5" fill="#111" text-anchor="start" font-weight="normal" xml:space="preserve">Jeremiah De Grazia</text>
<text x="13.8" y="523.6" font-size="10.5" fill="#111" text-anchor="start" font-weight="normal" xml:space="preserve">Jesse Wooten</text>
<text x="13.8" y="536.6" font-size="10.5" fill="#111" text-anchor="start" font-weight="normal" xml:space="preserve">Jessica Rodriguez</text>
<text x="13.8" y="549.6" font-size="10.5" fill="#111" text-anchor="start" font-weight="normal" xml:space="preserve">Joeanne Melendez</text>
<text x="13.8" y="562.6" font-size="10.5" fill="#111" text-anchor="start" font-weight="normal" xml:space="preserve">John  Michael</text>
<text x="13.8" y="575.6" font-size="10.5" fill="#111" text-anchor="start" font-weight="normal" xml:space="preserve">Johnathan A Wilhite</text>
<text x="13.8" y="588.6" font-size="10.5" fill="#111" text-anchor="start" font-weight="normal" xml:space="preserve">Jonathan C. Parnell</text>
<text x="13.8" y="601.6" font-size="10.5" fill="#111" text-anchor="start" font-weight="normal" xml:space="preserve">Jordan Jones</text>
<rect x="140" y="382" width="15" height="278" fill="url(#sbg)"/>
<path d="M143.9,391.5 L147.5,388 L151.1,391.5 Z" fill="#2a2a2a" shape-rendering="geometricPrecision"/>
<rect x="141.5" y="478.5" width="13" height="60" rx="2" fill="url(#thumb)" stroke="#8f8f8f" stroke-width="1" shape-rendering="geometricPrecision"/>
<rect x="144" y="504" width="6" height="1" fill="#444" />
<rect x="144" y="506" width="6" height="1" fill="#444" />
<rect x="144" y="508" width="6" height="1" fill="#444" />
<rect x="144" y="510" width="6" height="1" fill="#444" />
<rect x="0" y="594" width="1163" height="15" fill="#dde1e7" />
<rect x="0" y="594" width="1163" height="1" fill="#b9bfc7" />
<rect x="0" y="594" width="27" height="15" fill="#9ea5ae" />
<rect x="0" y="595" width="26" height="14" fill="#dfe3e9" />
<path d="M-0.5,597.5 L4.2,601.3 L-0.5,605.2 Z" fill="#3b4450" shape-rendering="geometricPrecision"/>
<path d="M14,597.8 L17.5,601.3 L14,604.8 Z" fill="#3b4450" shape-rendering="geometricPrecision"/>
<rect x="19" y="598" width="1.3" height="7" fill="#3b4450" shape-rendering="geometricPrecision"/>
<path d="M105,609 L119,594 L423.5,594 L410,609 Z" fill="#9ea5ae" shape-rendering="geometricPrecision"/>
<path d="M106.5,609 L119.5,595 L422,595 L409,609 Z" fill="#f4f6f8" shape-rendering="geometricPrecision"/>
<path d="M108,608 L120.5,596 L421,596 L409.5,608 Z" fill="#e3e6eb" shape-rendering="geometricPrecision"/>
<path d="M27,594 L119,594 L105,609 L27,609 Z" fill="#fff" shape-rendering="geometricPrecision"/>
<path d="M105,609 L119,594.5" stroke="#6d747d" stroke-width="1" stroke-dasharray="1,0.6" shape-rendering="geometricPrecision"/>
<path d="M212.1,609 L225.6,594.5" stroke="#7a818a" stroke-width="1" shape-rendering="geometricPrecision"/>
<path d="M301,609 L314.5,594.5" stroke="#7a818a" stroke-width="1" shape-rendering="geometricPrecision"/>
<path d="M345.5,609 L358.4,594.5" stroke="#7a818a" stroke-width="1" shape-rendering="geometricPrecision"/>
<path d="M410,609 L423.5,594.5" stroke="#7a818a" stroke-width="1" shape-rendering="geometricPrecision"/>
<text x="36" y="606.6" font-size="12.3" fill="#2a3140" text-anchor="start" font-weight="bold" >Dashboard</text>
<text x="121.9" y="606.4" font-size="11.4" fill="#4a5261" text-anchor="start" font-weight="normal" >Employee Data</text>
<text x="230.5" y="606.4" font-size="11.4" fill="#4a5261" text-anchor="start" font-weight="normal" >Calculations</text>
<text x="316.4" y="606.4" font-size="11.4" fill="#4a5261" text-anchor="start" font-weight="normal" >Lists</text>
<text x="360.3" y="606.4" font-size="11.4" fill="#4a5261" text-anchor="start" font-weight="normal" >Readme</text>
<rect x="0" y="609" width="1163" height="2" fill="#959ca6" />
<rect x="0" y="611" width="1163" height="8" fill="url(#stb)"/>
<rect x="0" y="611" width="1163" height="1" fill="#f7f8fa" />
<rect x="12" y="612" width="1" height="7" fill="#9aa2ad" />
<rect x="720" y="596" width="7" height="12" fill="#ffffff" stroke="#8a9099" stroke-width="1"/>
<rect x="723" y="598" width="1" height="8" fill="#555" />
<path d="M738,597.5 L733,601.5 L738,605.5 Z" fill="#3b4450" shape-rendering="geometricPrecision"/>
<rect x="746" y="595" width="406" height="14" rx="2" fill="url(#hs)" stroke="#a5abb4" stroke-width="1"/>
<rect x="946" y="598" width="1" height="8" fill="#777" />
<rect x="948" y="598" width="1" height="8" fill="#777" />
<rect x="950" y="598" width="1" height="8" fill="#777" />
<rect x="952" y="598" width="1" height="8" fill="#777" />
<rect x="1002" y="612" width="1" height="7" fill="#9aa2ad" />
<rect x="1007.5" y="612.5" width="18" height="10" rx="2" fill="#fde3a7" stroke="#e9a94a" stroke-width="1" shape-rendering="geometricPrecision"/>
<rect x="1011" y="615" width="11" height="4" fill="#fff" />
<rect x="1014" y="615" width="1" height="4" fill="#8a8f96" />
<rect x="1018" y="615" width="1" height="4" fill="#8a8f96" />
<rect x="1029" y="614" width="12" height="5" fill="#7b828c" />
<rect x="1030" y="615" width="10" height="4" fill="#e9ebee" />
<rect x="1032" y="616" width="6" height="3" fill="#fff" />
<rect x="1047" y="614" width="12" height="5" fill="#7b828c" />
<rect x="1048" y="615" width="4" height="4" fill="#fff" />
<rect x="1053" y="615" width="5" height="4" fill="#fff" />
<rect x="1056" y="615" width="1" height="4" fill="#9aa" />
<text x="1072.8" y="624.3" font-size="11" fill="#333" text-anchor="start" font-weight="normal" >100%</text>
<circle cx="1115.5" cy="620" r="7" fill="#fff" stroke="#8a9099" stroke-width="1" shape-rendering="geometricPrecision"/>
</svg></body></html>
